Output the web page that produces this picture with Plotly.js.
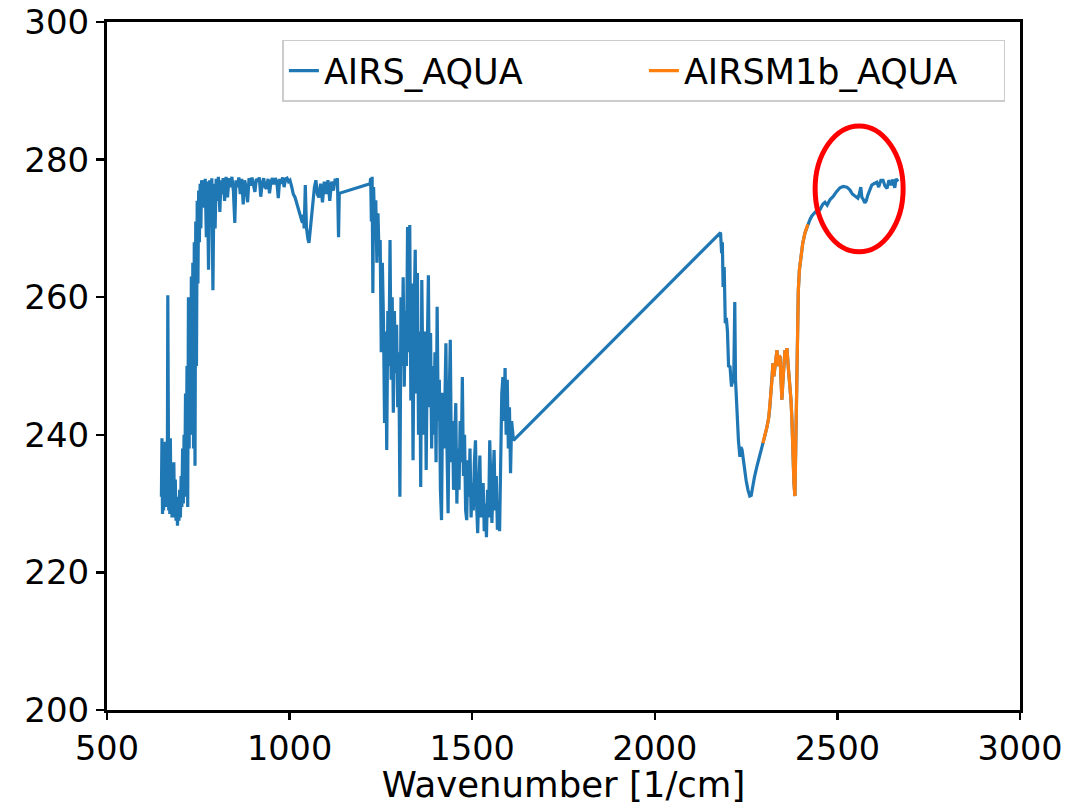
<!DOCTYPE html>
<html>
<head>
<meta charset="utf-8">
<script src="https://cdn.plot.ly/plotly-3.0.1.min.js"></script>
<style>
  html, body { margin: 0; padding: 0; background: #ffffff; }
  #chart { width: 1079px; height: 805px; }
</style>
</head>
<body>
<div id="chart"></div>
<script>
// ---- Data ----
// AIRS_AQUA, band 1 (CO2 15 um)
const airsWnA = [649,650.5,652,653.5,655,656.5,658,659.5,661,662.5,664,665.5,666.5,667.5,669,670.5,672,673.5,675,676.5,678,679.5,681,683,685,687,689,691,693,695,697,699,701,703,705,707,709,711,713,715,717,719,721,723,725,727,729,731,733,735,737,739,741,743,745,747,749,751,753,755,757,759];
const airsBtA = [231,239.5,228.5,238,229,236,230,239,229.5,237,232,240,260.3,238,229,236,228.5,239.5,230,234,228,233,229,236,228,233.5,227.5,231,226.8,230,227.5,232,228,234,229.5,238,230,240,233,246,231,250,229.5,260,238,257,242,263,240,265,238,268,235.5,271,250,274,262,275.5,268,276.5,270,277];
// window + ozone region
const airsWnB = [760,763,766,769,772,775,778,781,784,787,790,793,796,799,802,805,809,812,815,818,822,826,830,834,838,842,846,850,853,857,861,865,869,873,877,881,885,889,893,897,901,905,909,913,917,921,925,929,933,937,941,945,949,953,957,961,965,969,973,977,981,985,989,993,997,1001,1006,1010,1015,1020,1024,1028,1032,1035,1038,1040,1043,1046,1050,1053,1057,1061,1065,1068,1072,1076,1080,1085,1090,1095,1100,1105,1110,1115,1120,1125,1128,1131,1134,1136];
const airsBtB = [276,277,273,277.2,268.7,276.8,264,277,272,277.3,261,276.5,270,277.2,274,277.5,272.4,277,275,277.3,274,277.5,274.5,277.3,276,277.5,275.5,270.8,277,276,277.4,275,277.2,273.5,277,276,273.8,277.3,276.2,277.4,276.5,275.3,277.2,276.8,277.4,274.6,276.5,277.3,276,275.8,277.2,275.1,276.8,277.3,276.4,277.3,276.8,274.4,277.2,276.5,277.4,276,277.2,277.3,276.8,277,276,275,274.5,273.5,273,272.2,271.5,270.8,272,270,276.3,270.2,268.5,267.9,270,272.2,274.5,276,277,275,274.5,276.5,273.8,276.8,275,277,274,276.8,275.5,277.2,276.5,277.3,268.7,275.1];
// water vapour band
const airsWnC = [1220,1222,1224,1226,1228,1230,1233,1236,1239,1242,1245,1248,1251,1254,1257,1260,1263,1266,1269,1272,1275,1278,1281,1284,1287,1290,1293,1296,1299,1302,1305,1308,1311,1314,1317,1320,1323,1326,1329,1332,1335,1338,1341,1344,1347,1350,1353,1356,1359,1362,1365,1368,1371,1374,1377,1380,1383,1386,1389,1392,1395,1398,1401,1404,1407,1410,1413,1416,1419,1422,1425,1428,1431,1434,1437,1440,1443,1446,1449,1452,1455,1458,1461,1464,1467,1470,1473,1476,1479,1482,1485,1488,1491,1494,1497,1500,1503,1506,1509,1512,1515,1518,1521,1524,1527,1530,1533,1536,1539,1542,1545,1548,1551,1554,1557,1560,1563,1566,1569,1572,1575,1578,1581,1584,1587,1590,1593,1596,1599,1602,1605,1608,1611,1613];
const airsBtC = [276.5,277.3,271,277.5,260.6,276,270,274.1,265,272.2,266,268.3,252,265,256.7,241.7,255,237.8,258,250,268.3,248,260,243.2,258,249,256,244,252,231,260,250,262.9,247,258,250,270.2,252,270.5,245,262,236.3,258,266.9,246,263.5,240,255,232.4,262.5,248,240,255,234.9,252,263.2,244,254.8,238,250,240,252,236,258.6,242,248,232,227.6,246.1,238,244,253.3,238,228.6,245,253.8,236,242,232,240,244.6,230,238,232,242,236,248.4,234,240,229,227.6,236.3,231,238,228,233,229,236,239.2,230,225.7,232,237,228,229,233,226,230,225.1,232,228,239.2,230,227.2,233,237.8,229,234,226.2,228,226,240,246,248.4,242,249.7,240,248,238,244,234.4,242,240.2,239.2];
// 4.3 um band
const airsWnD = [2180,2183,2185,2187,2190,2193,2196,2199,2202,2206,2210,2213,2216,2219,2221,2225,2229,2233,2236,2239,2242,2246,2250,2255,2260,2264,2268,2273,2280,2287,2292];
const airsBtD = [269.4,266.4,268,261.5,264.4,256.2,257,255,250,249.9,247,248.4,247.5,259.3,248,243,239.2,236.8,238.2,237.8,236.5,235,233.4,232,231.1,231.2,232.5,233.9,235.5,236.8,237.8];
// AIRSM1b_AQUA (overlaps AIRS_AQUA)
const m1bWn = [2296,2302,2307,2312,2315,2318,2321,2323.5,2326,2329,2332,2334.5,2337,2340,2343,2346,2348,2351,2354,2356.5,2359,2362,2364.5,2367,2370,2373,2375.5,2378,2381,2383.7,2386,2388,2390,2393,2396,2400,2405,2411,2419];
const m1bBt = [238.8,240,241.1,242.5,244,246,248,250.4,248.5,249.9,251,252.3,250,251.5,251.3,247,245.1,248,251,252.3,251.5,252.6,250.5,249,248,245,242.2,236.3,233,231.1,240,249,256,261,264,266,267.8,269.3,270.6];
// shortwave window
const airsWnE = [2425,2430,2440,2452,2460,2466,2472,2480,2488,2497,2507,2516,2526,2534,2541,2548,2556,2560,2564,2567,2570,2575,2579,2583,2589,2594,2600,2608,2613,2619,2625,2630,2636,2641,2647,2652,2657,2661,2666];
const airsBtE = [271.3,271.8,272.4,272.7,273.5,273.8,273.4,274.2,274.6,275.3,275.9,276.1,276,275.6,275,274.7,274.4,275,276,274.5,274.3,273.7,274,274.8,275.8,276.3,276.5,276.7,276,277,277,276.2,275.8,277,276.3,277.1,275.9,277.2,276.8];

const seriesNames = ['AIRS_AQUA', 'AIRSM1b_AQUA'];
const xTicks = [500, 1000, 1500, 2000, 2500, 3000];
const yTicks = [200, 220, 240, 260, 280, 300];
const highlight = {x0: 2439, x1: 2680, y0: 266.6, y1: 284.9};

const airsWn = [].concat(airsWnA, airsWnB, airsWnC, airsWnD, m1bWn, airsWnE);
const airsBt = [].concat(airsBtA, airsBtB, airsBtC, airsBtD, m1bBt, airsBtE);

const FONT = 'DejaVu Sans, Liberation Sans, sans-serif';

const traces = [
  {x: airsWn, y: airsBt, type: 'scatter', mode: 'lines', name: seriesNames[0],
   line: {color: '#1f77b4', width: 3.2}},
  {x: m1bWn, y: m1bBt, type: 'scatter', mode: 'lines', name: seriesNames[1],
   line: {color: '#ff7f0e', width: 3.2}}
];

const layout = {
  width: 1079, height: 805,
  margin: {l: 107, r: 59, t: 22, b: 95},
  paper_bgcolor: '#ffffff', plot_bgcolor: '#ffffff',
  font: {family: FONT, size: 34, color: '#000000'},
  showlegend: true,
  legend: {
    orientation: 'h', x: 0.984, y: 0.974, xanchor: 'right', yanchor: 'top',
    bgcolor: '#ffffff', bordercolor: '#cccccc', borderwidth: 1.5,
    font: {family: FONT, size: 35, color: '#000000'},
    itemwidth: 30, entrywidth: 315, entrywidthmode: 'pixels'
  },
  xaxis: {
    range: [500, 3000], tickvals: xTicks, ticktext: xTicks.map(String),
    showgrid: false, zeroline: false,
    showline: true, mirror: true, linecolor: '#000000', linewidth: 3,
    ticks: 'outside', ticklen: 7, tickwidth: 2.5, tickcolor: '#000000',
    tickfont: {family: FONT, size: 33.5, color: '#000000'},
    title: {text: 'Wavenumber [1/cm]', font: {family: FONT, size: 35.5, color: '#000000'}, standoff: 11}
  },
  yaxis: {
    range: [200, 300], tickvals: yTicks, ticktext: yTicks.map(String),
    showgrid: false, zeroline: false,
    showline: true, mirror: true, linecolor: '#000000', linewidth: 3,
    ticks: 'outside', ticklen: 8, tickwidth: 2.5, tickcolor: '#000000',
    tickfont: {family: FONT, size: 34, color: '#000000'}
  },
  shapes: [{
    type: 'circle', xref: 'x', yref: 'y',
    x0: highlight.x0, x1: highlight.x1, y0: highlight.y0, y1: highlight.y1,
    line: {color: '#ff0000', width: 5}
  }]
};

Plotly.newPlot('chart', traces, layout, {displayModeBar: false, staticPlot: true});
</script>
</body>
</html>
